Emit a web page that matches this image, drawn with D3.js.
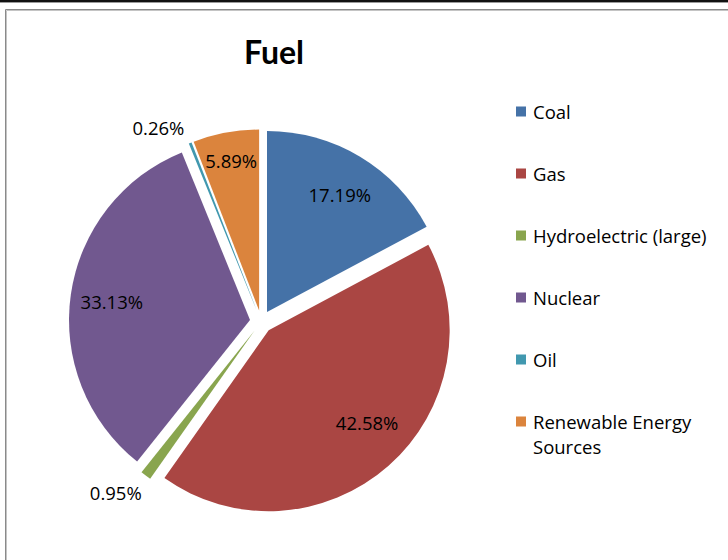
<!DOCTYPE html>
<html>
<head>
<meta charset="utf-8">
<script src="https://cdn.jsdelivr.net/npm/d3@7"></script>
<style>
  html, body { margin: 0; padding: 0; background: #fff; }
  svg { display: block; }
  text { font-family: "Open Sans", Lato, "Liberation Sans", sans-serif; }
  text.title { font-family: Lato, "Open Sans", sans-serif; }
</style>
</head>
<body>
<svg id="chart" width="728" height="560"></svg>
<script>
// ---- data ----
const categories = ["Coal", "Gas", "Hydroelectric (large)", "Nuclear", "Oil", "Renewable Energy Sources"];
const shares = [17.19, 42.58, 0.95, 33.13, 0.26, 5.89];
const colors = ["#4572A7", "#AA4643", "#89A54E", "#71588F", "#4198AF", "#DB843D"];
const title = "Fuel";

// ---- layout ----
const W = 728, H = 560;
const cx = 261.2, cy = 321.7, R = 181, explode = 11.3;
// label placement per slice: [radius factor, angle shift in degrees]
const labelPlacement = [[0.76, 1], [0.75, -5], [1.18, 3.6], [0.77, -0.8], [1.15, -6.6], [0.84, 0]];
const fontSize = 18.5;

const svg = d3.select("#chart");
svg.append("rect").attr("width", W).attr("height", H).attr("fill", "#fff");

// top dark strip and chart frame
svg.append("rect").attr("x", 0).attr("y", 0).attr("width", W).attr("height", 2).attr("fill", "#111");
svg.append("line").attr("x1", 0).attr("x2", W).attr("y1", 2.5).attr("y2", 2.5).attr("stroke", "#9a9a9a").attr("stroke-width", 1);
svg.append("path").attr("d", `M5.5,${H} V9.5 H${W}`).attr("fill", "none").attr("stroke", "#8a8a8a").attr("stroke-width", 1);
svg.append("path").attr("d", `M6.5,${H} V10.5 H${W}`).attr("fill", "none").attr("stroke", "#c4c4c4").attr("stroke-width", 1);

// title
svg.append("text").attr("class", "title").attr("x", 274).attr("y", 63.5).attr("text-anchor", "middle")
  .attr("font-size", 32).attr("font-weight", "bold").attr("fill", "#000").text(title);

// pie
const pie = d3.pie().sort(null).value(d => d);
const arcs = pie(shares);
const arc = d3.arc().innerRadius(0).outerRadius(R);

const g = svg.append("g").attr("transform", `translate(${cx},${cy})`);
const mid = a => (a.startAngle + a.endAngle) / 2;

g.selectAll("path.slice").data(arcs).enter().append("path")
  .attr("class", "slice")
  .attr("d", arc)
  .attr("fill", (d, i) => colors[i])
  .attr("transform", d => `translate(${Math.sin(mid(d)) * explode},${-Math.cos(mid(d)) * explode})`);

// labels
const fmt = v => v.toFixed(2) + "%";
g.selectAll("text.lbl").data(arcs).enter().append("text")
  .attr("class", "lbl")
  .attr("x", (d, i) => {
    const a = mid(d) + labelPlacement[i][1] * Math.PI / 180;
    return Math.sin(mid(d)) * explode + Math.sin(a) * R * labelPlacement[i][0];
  })
  .attr("y", (d, i) => {
    const a = mid(d) + labelPlacement[i][1] * Math.PI / 180;
    return -Math.cos(mid(d)) * explode - Math.cos(a) * R * labelPlacement[i][0];
  })
  .attr("dy", "0.36em")
  .attr("text-anchor", "middle")
  .attr("font-size", fontSize)
  .attr("fill", "#000")
  .text((d, i) => fmt(shares[i]));

// legend
const lg = svg.append("g").attr("transform", "translate(516,112)");
const item = lg.selectAll("g.item").data(categories).enter().append("g")
  .attr("class", "item")
  .attr("transform", (d, i) => `translate(0,${i * 62})`);
item.append("rect").attr("x", 0).attr("y", -5.5).attr("width", 10).attr("height", 10)
  .attr("fill", (d, i) => colors[i]);
item.append("text").attr("x", 17).attr("y", 0)
  .attr("font-size", fontSize).attr("fill", "#000")
  .each(function(d) {
    const t = d3.select(this);
    const parts = d === "Renewable Energy Sources" ? ["Renewable Energy", "Sources"] : [d];
    parts.forEach((p, k) => {
      t.append("tspan").attr("x", 17).attr("dy", k === 0 ? "0.36em" : 25).text(p);
    });
  });
</script>
</body>
</html>
